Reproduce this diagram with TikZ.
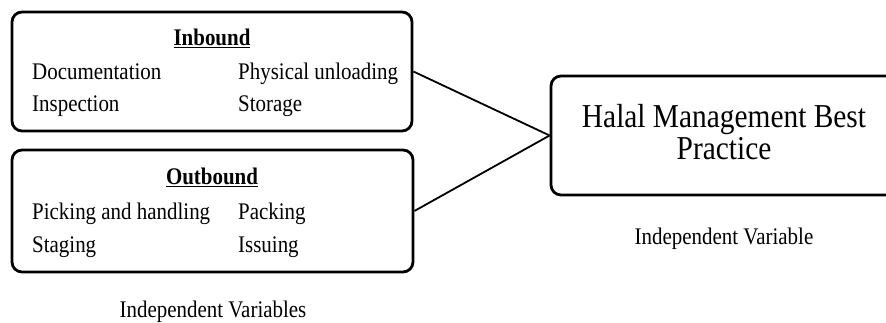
\documentclass[tikz,border=0pt]{standalone}
\usepackage{fontspec}
\setmainfont[FakeStretch=0.88]{Liberation Serif}
\begin{document}
\begin{tikzpicture}[x=1pt,y=-1pt,
  box/.style={draw=black, line width=2.8pt, rounded corners=10pt, inner sep=0pt},
  lbl/.style={inner sep=0pt, font=\fontsize{23.8}{26}\selectfont},
  ttl/.style={inner sep=0pt, font=\fontsize{23.8}{26}\selectfont\bfseries},
  big/.style={inner sep=0pt, font=\fontsize{33.4}{36}\selectfont, align=center},
  conn/.style={draw=black, line width=1.8pt}]
\useasboundingbox (0,0) rectangle (886,323);
\node[box, minimum width=400pt, minimum height=119pt] (inb) at (212,71.5) {};
\node[box, minimum width=401pt, minimum height=122pt] (outb) at (212.5,211) {};
\node[box, minimum width=346pt, minimum height=119pt] (halal) at (724,135.5) {};
% inbound contents
\node[ttl, anchor=base] (tin) at (212,46) {\underline{Inbound}};
\node[lbl, anchor=base west] (doc) at (32,80) {Documentation};
\node[lbl, anchor=base west] (phy) at (238,80) {Physical unloading};
\node[lbl, anchor=base west] (ins) at (32,112) {Inspection};
\node[lbl, anchor=base west] (sto) at (238,112) {Storage};
% outbound contents
\node[ttl, anchor=base] (tout) at (212,185) {\underline{Outbound}};
\node[lbl, anchor=base west] (pic) at (32,220) {Picking and handling};
\node[lbl, anchor=base west] (pac) at (238,220) {Packing};
\node[lbl, anchor=base west] (sta) at (32,252) {Staging};
\node[lbl, anchor=base west] (iss) at (238,252) {Issuing};
% right box text
\node[big, anchor=base] (h1) at (724,128) {Halal Management Best};
\node[big, anchor=base] (h2) at (724,160) {Practice};
\node[lbl, anchor=base] (iv) at (724,244) {Independent Variable};
\node[lbl, anchor=base] (ivs) at (213,317) {Independent Variables};
% connectors
\draw[conn] (inb.east) -- (halal.west);
\draw[conn] (outb.east) -- (halal.west);
\end{tikzpicture}
\end{document}
